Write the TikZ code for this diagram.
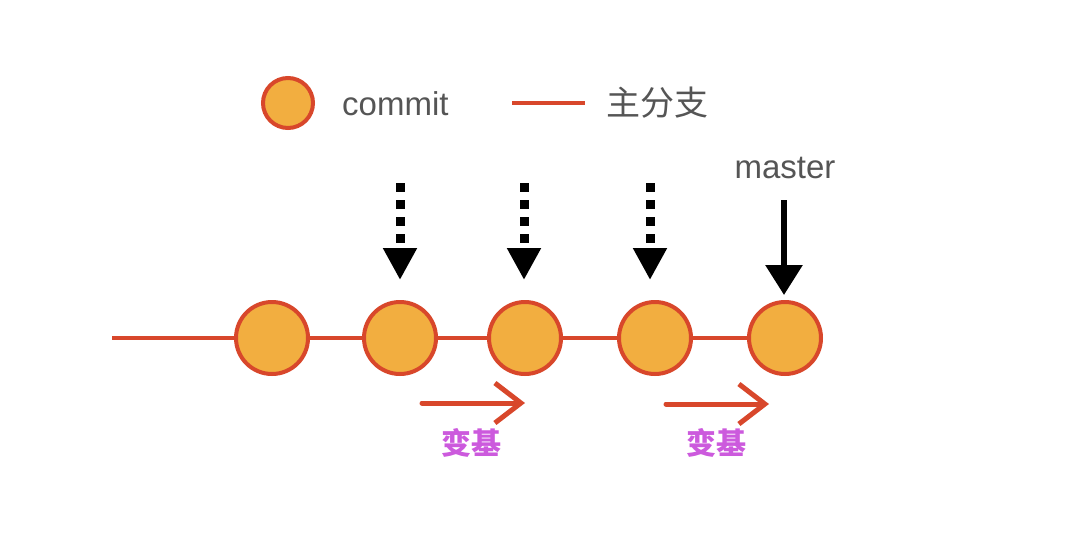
\documentclass[tikz,border=0pt]{standalone}
\usepackage{fontspec}
\setmainfont{Liberation Sans}
\newfontfamily\cjk{Noto Sans CJK SC}
\usetikzlibrary{arrows.meta}
\definecolor{cfill}{HTML}{F2AE40}
\definecolor{cred}{HTML}{D8472B}
\definecolor{tgray}{HTML}{555555}
\definecolor{cpurple}{HTML}{CC5ADD}
\tikzset{
  commit/.style={circle,draw=cred,fill=cfill,line width=4pt,minimum size=#1,inner sep=0pt},
  branch/.style={draw=cred,line width=3.5pt},
  lbl/.style={text=tgray,font=\fontsize{33}{38}\selectfont,inner sep=0pt},
  cjklbl/.style={text=tgray,font=\cjk\fontsize{34}{40}\selectfont,inner sep=0pt},
  dotarrow/.style={line width=9pt,dash pattern=on 9pt off 8pt,-{Triangle[length=32pt,width=32pt]}},
  masterarrow/.style={line width=6pt,-{Triangle[length=30pt,width=36pt]}},
  rebase/.style={draw=cred,line width=5pt,line cap=round,-{Straight Barb[length=26pt,width=40pt,line width=5pt]}},
  rebtext/.style={text=cpurple,font=\cjk\bfseries\fontsize{30}{34}\selectfont,inner sep=0pt}
}
\begin{document}
\begin{tikzpicture}[x=1pt,y=-1pt]
\useasboundingbox (0,0) rectangle (1080,552);
% legend
\node[commit=50pt] (lc) at (288,103) {};
\node[lbl,anchor=west] (lct) at (342,104) {commit};
\coordinate (lla) at (512,103);
\coordinate (llb) at (585,103);
\draw[branch] (lla) -- (llb);
\node[cjklbl,anchor=west] (llt) at (606,103) {主分支};
% main branch
\coordinate (start) at (112,338);
\node[commit=72pt] (c1) at (272,338) {};
\node[commit=72pt] (c2) at (400,338) {};
\node[commit=72pt] (c3) at (525,338) {};
\node[commit=72pt] (c4) at (655,338) {};
\node[commit=72pt] (c5) at (785,338) {};
\draw[branch] (start) -- (c1) (c1) -- (c2) (c2) -- (c3) (c3) -- (c4) (c4) -- (c5);
% dotted pointers
\coordinate (p2) at (400,183);
\coordinate (p3) at (524,183);
\coordinate (p4) at (650,183);
\draw[dotarrow,shorten >=20pt] (p2) -- (c2.north);
\draw[dotarrow,shorten >=20pt] (p3) -- (c3.north -| p3);
\draw[dotarrow,shorten >=20pt] (p4) -- (c4.north -| p4);
% master
\node[lbl] (master) at (785,168) {master};
\coordinate (m0) at (784,200);
\draw[masterarrow,shorten >=5pt] (m0) -- (c5.north -| m0);
% rebase arrows
\coordinate (r1a) at (422,403);
\coordinate (r1b) at (525,403);
\coordinate (r2a) at (666,404);
\coordinate (r2b) at (769,404);
\draw[rebase] (r1a) -- (r1b);
\draw[rebase] (r2a) -- (r2b);
\node[rebtext] (t1) at (471,443) {变基};
\node[rebtext] (t2) at (716,443) {变基};
\end{tikzpicture}
\end{document}
